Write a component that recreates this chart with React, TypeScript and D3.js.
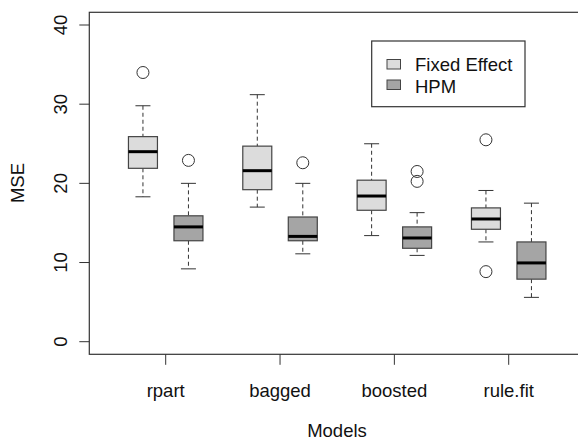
import React from "react"
import * as d3 from "d3"

const width = 578
const height = 440

// models on the x axis
const models = ["rpart", "bagged", "boosted", "rule.fit"]
const series = ["Fixed Effect", "HPM"]
const fills = ["#dcdcdc", "#a5a5a5"]

// [lower whisker, Q1, median, Q3, upper whisker]
const fixedEffect = [
  [18.3, 21.9, 24.0, 25.9, 29.8],
  [17.0, 19.2, 21.6, 24.7, 31.2],
  [13.4, 16.6, 18.4, 20.4, 25.0],
  [12.6, 14.2, 15.5, 16.9, 19.1],
]
const hpm = [
  [9.2, 12.75, 14.5, 15.9, 20.0],
  [11.1, 12.75, 13.3, 15.75, 20.0],
  [10.9, 11.8, 13.1, 14.5, 16.3],
  [5.6, 7.9, 9.95, 12.6, 17.5],
]
const fixedEffectOutliers = [[34.0], [], [], [25.5, 8.85]]
const hpmOutliers = [[22.9], [22.6], [21.5, 20.25], []]

const yTicks = [0, 10, 20, 30, 40]

const frameLeft = 89.3
const frameTop = 12.3
const frameBottom = 354.3
const frameRight = 586
const boxWidth = 29
const offset = 22.75
const font = "'Liberation Sans', Arial, sans-serif"

const y = d3.scaleLinear().domain([0, 40]).range([341.7, 25])
const x = d3.scalePoint<string>().domain(models).range([165.7, 508.7])

const Box = ({ cx, stats, outliers, fill }: { cx: number; stats: number[]; outliers: number[]; fill: string }) => {
  const [lo, q1, med, q3, hi] = stats
  return (
    <g>
      <line x1={cx} x2={cx} y1={y(hi)} y2={y(q3)} stroke="#333" strokeDasharray="4,3" />
      <line x1={cx} x2={cx} y1={y(q1)} y2={y(lo)} stroke="#333" strokeDasharray="4,3" />
      <line x1={cx - 7.5} x2={cx + 7.5} y1={y(hi)} y2={y(hi)} stroke="#333" />
      <line x1={cx - 7.5} x2={cx + 7.5} y1={y(lo)} y2={y(lo)} stroke="#333" />
      <rect x={cx - boxWidth / 2} y={y(q3)} width={boxWidth} height={y(q1) - y(q3)} fill={fill} stroke="#444" strokeWidth={1.2} />
      <line x1={cx - boxWidth / 2} x2={cx + boxWidth / 2} y1={y(med)} y2={y(med)} stroke="#000" strokeWidth={3} />
      {outliers.map((o, i) => (
        <circle key={i} cx={cx} cy={y(o)} r={6} fill="none" stroke="#333" strokeWidth={1} />
      ))}
    </g>
  )
}

const App = () => (
  <svg width={width} height={height} style={{ position: "absolute", left: 0, top: 0 }}>
    <rect width={width} height={height} fill="#fff" />
    <rect x={frameLeft} y={frameTop} width={frameRight - frameLeft} height={frameBottom - frameTop} fill="none" stroke="#333" strokeWidth={1.2} />

    {yTicks.map(t => (
      <g key={t}>
        <line x1={frameLeft - 10} x2={frameLeft} y1={y(t)} y2={y(t)} stroke="#333" />
        <text transform={`translate(${67},${y(t)}) rotate(-90)`} textAnchor="middle" fontFamily={font} fontSize={18.5} fill="#111">
          {t}
        </text>
      </g>
    ))}

    {models.map(m => (
      <g key={m}>
        <line x1={x(m)!} x2={x(m)!} y1={frameBottom} y2={frameBottom + 10.5} stroke="#333" />
        <text x={x(m)!} y={397} textAnchor="middle" fontFamily={font} fontSize={18.5} fill="#111">
          {m}
        </text>
      </g>
    ))}

    {models.map((m, i) => (
      <g key={m}>
        <Box cx={x(m)! - offset} stats={fixedEffect[i]} outliers={fixedEffectOutliers[i]} fill={fills[0]} />
        <Box cx={x(m)! + offset} stats={hpm[i]} outliers={hpmOutliers[i]} fill={fills[1]} />
      </g>
    ))}

    <text transform="translate(24,183) rotate(-90)" textAnchor="middle" fontFamily={font} fontSize={18.5} fill="#111">MSE</text>
    <text x={337} y={437} textAnchor="middle" fontFamily={font} fontSize={18.5} fill="#111">Models</text>

    <g>
      <rect x={371.7} y={41} width={153.3} height={65.7} fill="#fff" stroke="#333" strokeWidth={1.2} />
      {series.map((s, i) => (
        <g key={s}>
          <rect x={387} y={59.5 + i * 20.5} width={13.5} height={9.5} fill={fills[i]} stroke="#444" />
          <text x={415} y={70.7 + i * 22.6} fontFamily={font} fontSize={18.5} fill="#111">{s}</text>
        </g>
      ))}
    </g>
  </svg>
)

export default App
